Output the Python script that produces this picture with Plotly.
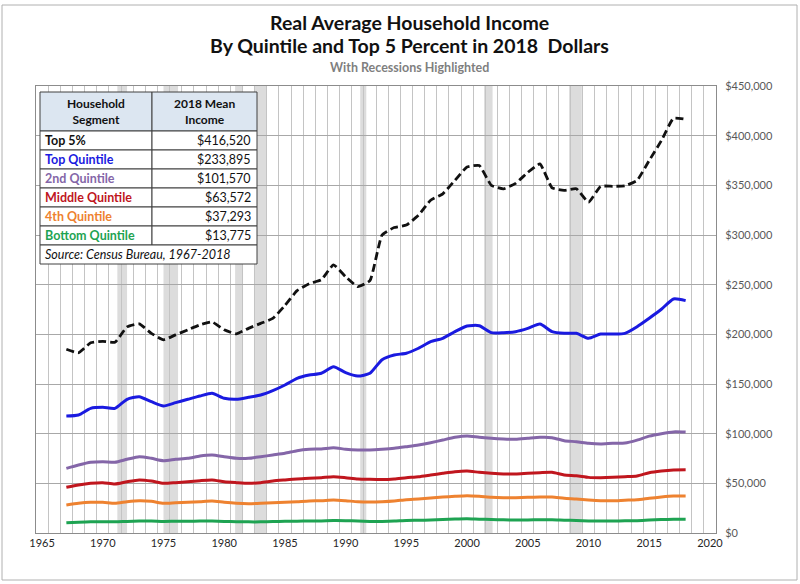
import plotly.graph_objects as go

# ---------------- data ----------------
years = list(range(1967, 2019))

top5 = [185000, 181500, 191500, 193000, 192000, 207500, 210500, 201000, 194500, 199500,
        204500, 209500, 212500, 204500, 200500, 206000, 211000, 216000, 229000, 244000,
        251000, 255000, 270000, 258000, 248000, 254000, 300000, 307500, 310000, 320000,
        335000, 341500, 355000, 368500, 370000, 350000, 346500, 352000, 363000, 371500,
        347500, 345000, 346500, 333000, 349000, 349000, 349500, 355000, 375000, 395000,
        417500, 416520]

top_quintile = [117800, 118800, 125500, 126500, 125500, 134600, 137200, 132200, 127900, 131200,
                134600, 137900, 140600, 135600, 134600, 136600, 138900, 143300, 149000, 155700,
                159000, 160800, 167400, 161400, 158000, 160800, 174500, 179200, 181000, 186000,
                192600, 196000, 202700, 208400, 208700, 201700, 201700, 202700, 206000, 210400,
                202700, 201000, 201000, 196000, 200300, 200300, 201000, 207700, 216200, 225200,
                235600, 233895]

second_quintile = [65100, 68500, 71200, 71800, 71200, 74200, 76800, 75200, 72800, 74200,
                   75200, 77500, 78500, 76800, 75200, 75200, 76800, 78500, 80200, 82900,
                   84300, 84600, 85900, 84300, 83600, 83600, 84300, 85300, 86900, 88600,
                   90900, 93600, 96300, 97700, 96300, 95300, 94600, 94300, 95300, 96300,
                   96000, 92900, 91900, 90300, 89600, 90300, 90500, 93500, 97500, 100000,
                   101800, 101570]

middle_quintile = [46000, 48300, 50000, 50700, 49300, 51600, 53400, 52300, 50000, 50700,
                   51600, 52700, 53400, 51600, 50700, 50000, 50700, 52300, 53400, 54400,
                   55000, 55700, 56700, 55700, 54400, 54000, 53800, 54400, 55700, 56700,
                   58400, 60100, 61700, 62400, 61100, 60100, 59400, 59400, 60100, 60700,
                   61100, 58400, 57700, 56000, 55700, 56000, 56700, 57400, 60700, 62400,
                   63400, 63572]

fourth_quintile = [28200, 29900, 30900, 30900, 29900, 31500, 32500, 31900, 29900, 30500,
                   30900, 31500, 32200, 30900, 29900, 29500, 29900, 30500, 30900, 31500,
                   32200, 32500, 33200, 32500, 31500, 31200, 31500, 32200, 33500, 34200,
                   35200, 36200, 37000, 37600, 37000, 36000, 35600, 35600, 35900, 36200,
                   36200, 34900, 34200, 33200, 32500, 32500, 33000, 33400, 34900, 36200,
                   37200, 37293]

bottom_quintile = [10200, 10900, 11400, 11400, 11300, 11700, 12000, 12100, 11600, 11800,
                   11800, 12000, 12000, 11700, 11400, 11200, 11200, 11500, 11800, 11900,
                   12100, 12200, 12500, 12400, 12000, 11700, 11700, 12000, 12700, 12800,
                   13000, 13500, 14100, 14400, 13900, 13600, 13300, 13100, 13200, 13300,
                   13300, 12900, 12600, 12200, 12000, 12100, 12300, 12400, 13000, 13500,
                   13800, 13775]

recession_start = [1971.2, 1975.0, 1980.9, 1982.45, 1991.2, 2001.4, 2008.4]
recession_end = [1972.0, 1976.2, 1981.55, 1983.5, 1991.7, 2002.1, 2009.45]

segment_labels = ["Top 5%", "Top Quintile", "2nd Quintile", "Middle Quintile",
                  "4th Quintile", "Bottom Quintile"]
segment_income_2018 = [416520, 233895, 101570, 63572, 37293, 13775]
header_labels = ["Household<br>Segment", "2018 Mean<br>Income"]
source_text = "Source: Census Bureau, 1967-2018"

x_tick_vals = list(range(1965, 2021, 5))
y_tick_vals = list(range(0, 450001, 50000))
y_tick_text = ["${:,}".format(v) for v in y_tick_vals]

# ---------------- styles ----------------
FONT = "Lato"
col_black = "#111111"
col_blue = "#1a1ae0"
col_purple = "#8466a8"
col_red = "#c0161e"
col_orange = "#ee8230"
col_green = "#1ea352"
label_colors = [col_black, col_blue, col_purple, col_red, col_orange, col_green]

# plot area in pixels
L, R, T, B = 36, 716, 86, 533
W, H = 800, 584


def px_x(p):
    return (p - L) / (R - L)


def px_y(p):
    return (B - p) / (B - T)


fig = go.Figure()

for s, e in zip(recession_start, recession_end):
    fig.add_vrect(x0=s, x1=e, fillcolor="#dcdcdc", line_width=0, layer="below")

series = [
    (bottom_quintile, col_green, "Bottom Quintile"),
    (fourth_quintile, col_orange, "4th Quintile"),
    (middle_quintile, col_red, "Middle Quintile"),
    (second_quintile, col_purple, "2nd Quintile"),
    (top_quintile, col_blue, "Top Quintile"),
]
for vals, col, name in series:
    fig.add_trace(go.Scatter(x=years, y=vals, mode="lines", name=name,
                             line=dict(color=col, width=3, shape="spline", smoothing=0.6)))

fig.add_trace(go.Scatter(x=years, y=top5, mode="lines", name="Top 5%",
                         line=dict(color=col_black, width=2.8, dash="8px,4px",
                                   shape="spline", smoothing=0.4)))

# ---------------- table (drawn with shapes + text) ----------------
TL, TM, TR = 40, 152, 257
T_TOP, T_HEAD = 92, 131
ROW_H = 19
LINE = dict(color="#404040", width=1)
TFS = 12.5


def cell(x0, x1, y0, y1, fill):
    fig.add_shape(type="rect", xref="paper", yref="paper",
                  x0=px_x(x0), x1=px_x(x1), y0=px_y(y1), y1=px_y(y0),
                  fillcolor=fill, line=LINE, layer="above")


def text(t, x, y, anchor, color="#111111", size=TFS):
    fig.add_annotation(text=t, xref="paper", yref="paper", x=px_x(x), y=px_y(y),
                       xanchor=anchor, yanchor="middle", showarrow=False,
                       font=dict(family=FONT, size=size, color=color))


cell(TL, TM, T_TOP, T_HEAD, "#dce6f1")
cell(TM, TR, T_TOP, T_HEAD, "#dce6f1")
text("<b>%s</b>" % header_labels[0], (TL + TM) / 2, (T_TOP + T_HEAD) / 2, "center", size=12)
text("<b>%s</b>" % header_labels[1], (TM + TR) / 2, (T_TOP + T_HEAD) / 2, "center", size=12)

for i, (lab, val, colr) in enumerate(zip(segment_labels, segment_income_2018, label_colors)):
    y0 = T_HEAD + i * ROW_H
    y1 = y0 + ROW_H
    cell(TL, TM, y0, y1, "white")
    cell(TM, TR, y0, y1, "white")
    text("<b>%s</b>" % lab, TL + 3, (y0 + y1) / 2, "left", colr)
    text("${:,}".format(val), TR - 4, (y0 + y1) / 2, "right")

y0 = T_HEAD + len(segment_labels) * ROW_H
cell(TL, TR, y0, y0 + ROW_H, "white")
text("<i>%s</i>" % source_text, TL + 3, y0 + ROW_H / 2, "left")

# ---------------- titles ----------------
fig.add_annotation(text="<b>Real Average Household Income</b>", xref="paper", yref="paper",
                   x=px_x(409), y=px_y(22), xanchor="center", yanchor="middle", showarrow=False,
                   font=dict(family=FONT, size=19.5, color="#111111"))
fig.add_annotation(text="<b>By Quintile and Top 5 Percent in 2018  Dollars</b>", xref="paper",
                   yref="paper", x=px_x(409), y=px_y(46), xanchor="center", yanchor="middle",
                   showarrow=False, font=dict(family=FONT, size=19.5, color="#111111"))
fig.add_annotation(text="<b>With Recessions Highlighted</b>", xref="paper", yref="paper",
                   x=px_x(409), y=px_y(67), xanchor="center", yanchor="middle", showarrow=False,
                   font=dict(family=FONT, size=12.5, color="#7f7f7f"))

# outer border
fig.add_shape(type="rect", xref="paper", yref="paper", x0=px_x(2), x1=px_x(797),
              y0=px_y(580), y1=px_y(5), line=dict(color="#b0b0b0", width=1), layer="below")

fig.update_layout(
    width=W, height=H,
    margin=dict(l=L, r=W - R, t=T, b=H - B, pad=0),
    paper_bgcolor="white", plot_bgcolor="white",
    showlegend=False,
    font=dict(family=FONT, color="#404040"),
    xaxis=dict(range=[1964.5, 2020.5], tickvals=x_tick_vals, showgrid=False,
               ticks="", tickfont=dict(size=11, color="#262626"),
               showline=True, linecolor="#8c8c8c", linewidth=1, mirror=True,
               minor=dict(tick0=1964.5, dtick=1, showgrid=True, gridcolor="#c4c4c4",
                          gridwidth=1, ticks=""),
               zeroline=False),
    yaxis=dict(range=[0, 450000], tickvals=y_tick_vals, ticktext=y_tick_text, side="right",
               showgrid=True, gridcolor="#a8a8a8",
               gridwidth=1, ticks="", ticklabelstandoff=6,
               tickfont=dict(size=11, color="#595959"),
               showline=True, linecolor="#8c8c8c", linewidth=1, mirror=True,
               zeroline=False),
)

fig.write_html("out.html")
